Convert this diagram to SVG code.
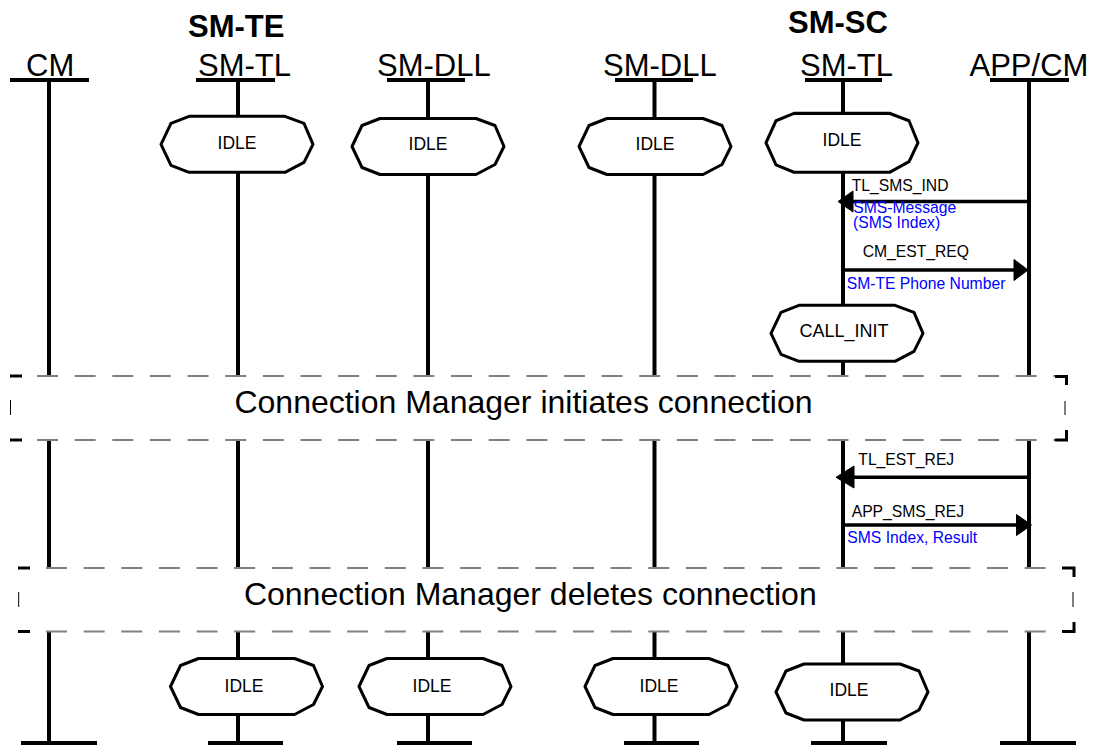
<svg xmlns="http://www.w3.org/2000/svg" xmlns:xlink="http://www.w3.org/1999/xlink" width="1098" height="745" viewBox="0 0 1098 745">
<style>
text{font-family:"Liberation Sans",Arial,sans-serif;fill:#000}
.hdr{font-size:31px}
.grp{font-size:31px;font-weight:bold}
.st{font-size:17.5px;text-anchor:middle}
.lbl{font-size:15.7px}
.blue{fill:#0000ff}
.big{font-size:32px;text-anchor:middle}
.life{stroke:#000;stroke-width:4;fill:none}
.bar{stroke:#000;stroke-width:4;fill:none}
.shape{fill:#fff;stroke:#000;stroke-width:3;stroke-linejoin:round}
.msg{stroke:#000;stroke-width:3.5;fill:none}
.head{fill:#000;stroke:#000;stroke-width:1}
.dash{stroke:#808080;stroke-width:2;stroke-dasharray:21 16.64;fill:none}
.corner{stroke:#000;stroke-width:3;fill:none}
.thin{stroke:#000;stroke-width:1;fill:none}
</style>
<defs>
<path id="state" d="M-48,-28 L48,-28 L67,-21 L76,0 L67,18 L48,28 L-48,28 L-66,21 L-76,0 L-66,-21 Z"/>
</defs>
<rect width="1098" height="745" fill="#fff"/>

<text class="grp" x="188" y="36.7">SM-TE</text>
<text class="grp" x="788" y="33.3">SM-SC</text>

<g id="ll-cm">
<text class="hdr" x="26" y="76">CM</text>
<line class="bar" x1="10" y1="80" x2="89" y2="80"/>
<path class="life" d="M49,80 V376 M49,440 V568 M49,631.5 V741"/>
<line class="bar" x1="21" y1="743" x2="97" y2="743"/>
</g>
<g id="ll-te-tl">
<text class="hdr" x="198" y="76">SM-TL</text>
<line class="bar" x1="196" y1="80" x2="275" y2="80"/>
<path class="life" d="M238,80 V376 M238,440 V568 M238,631.5 V741"/>
<line class="bar" x1="208" y1="743" x2="283" y2="743"/>
</g>
<g id="ll-te-dll">
<text class="hdr" x="377" y="76">SM-DLL</text>
<line class="bar" x1="387" y1="80" x2="465" y2="80"/>
<path class="life" d="M428,80 V376 M428,440 V568 M428,631.5 V741"/>
<line class="bar" x1="397" y1="743" x2="472" y2="743"/>
</g>
<g id="ll-sc-dll">
<text class="hdr" x="603" y="76">SM-DLL</text>
<line class="bar" x1="615" y1="80" x2="693" y2="80"/>
<path class="life" d="M654.5,80 V376 M654.5,440 V568 M654.5,631.5 V741"/>
<line class="bar" x1="624" y1="743" x2="699" y2="743"/>
</g>
<g id="ll-sc-tl">
<text class="hdr" x="800" y="76">SM-TL</text>
<line class="bar" x1="805" y1="80" x2="882" y2="80"/>
<path class="life" d="M843,80 V376 M843,440 V568 M843,631.5 V741"/>
<line class="bar" x1="811" y1="743" x2="887" y2="743"/>
</g>
<g id="ll-app">
<text class="hdr" x="969.5" y="76">APP/CM</text>
<line class="bar" x1="990" y1="80" x2="1069" y2="80"/>
<path class="life" d="M1029,80 V376 M1029,440 V568 M1029,631.5 V741"/>
<line class="bar" x1="1000" y1="743" x2="1076" y2="743"/>
</g>

<g id="state-te-tl-idle"><use xlink:href="#state" href="#state" class="shape" transform="translate(237,144.3)"/><text class="st" x="237" y="149.3">IDLE</text></g>
<g id="state-te-dll-idle"><use xlink:href="#state" href="#state" class="shape" transform="translate(428,146.5)"/><text class="st" x="428" y="150">IDLE</text></g>
<g id="state-sc-dll-idle"><use xlink:href="#state" href="#state" class="shape" transform="translate(655,146.5)"/><text class="st" x="655" y="150">IDLE</text></g>
<g id="state-sc-tl-idle"><use xlink:href="#state" href="#state" class="shape" transform="translate(842,142.8) scale(1,1.05)"/><text class="st" x="842" y="146">IDLE</text></g>
<g id="state-call-init"><use xlink:href="#state" href="#state" class="shape" transform="translate(847,333.3)"/><text class="st" x="844" y="336.7" style="font-size:18px">CALL_INIT</text></g>
<g id="state-te-tl-idle2"><use xlink:href="#state" href="#state" class="shape" transform="translate(246.5,686.5)"/><text class="st" x="244" y="691.7">IDLE</text></g>
<g id="state-te-dll-idle2"><use xlink:href="#state" href="#state" class="shape" transform="translate(435,686.5)"/><text class="st" x="432" y="691.7">IDLE</text></g>
<g id="state-sc-dll-idle2"><use xlink:href="#state" href="#state" class="shape" transform="translate(661,686.5)"/><text class="st" x="659" y="691.7">IDLE</text></g>
<g id="state-sc-tl-idle2"><use xlink:href="#state" href="#state" class="shape" transform="translate(852,692)"/><text class="st" x="849" y="696">IDLE</text></g>

<g id="box-initiates">
<line class="dash" x1="37" y1="376" x2="1055" y2="376"/>
<line class="dash" x1="37" y1="440" x2="1055" y2="440"/>
<line class="corner" x1="10" y1="376" x2="22" y2="376"/>
<line class="corner" x1="10" y1="440" x2="22" y2="440"/>
<line class="thin" x1="10.5" y1="400" x2="10.5" y2="415"/>
<path class="corner" d="M1055,376.5 H1066.5 V385 M1066.5,430 V440 H1055"/>
<line class="thin" x1="1065" y1="401" x2="1065" y2="415"/>
<text class="big" x="523.5" y="413.3">Connection Manager initiates connection</text>
</g>
<g id="box-deletes">
<line class="dash" x1="46" y1="568" x2="1062" y2="568"/>
<line class="dash" x1="46" y1="631.5" x2="1062" y2="631.5"/>
<line class="corner" x1="18" y1="568" x2="30" y2="568"/>
<line class="corner" x1="18" y1="631.5" x2="30" y2="631.5"/>
<line class="thin" x1="18.7" y1="592" x2="18.7" y2="607"/>
<path class="corner" d="M1062,568 H1074 V577 M1074,622 V631.5 H1062"/>
<line class="thin" x1="1073" y1="592" x2="1073" y2="607"/>
<text class="big" x="530.3" y="605">Connection Manager deletes connection</text>
</g>

<g id="connectors">
<line class="msg" x1="1029" y1="201.5" x2="850" y2="201.5"/>
<polygon class="head" points="838,201.5 853,191 853,212"/>
<text class="lbl" x="851.7" y="190.7">TL_SMS_IND</text>
<text class="lbl blue" x="853.3" y="213.3">SMS-Message</text>
<text class="lbl blue" x="853" y="228.3">(SMS Index)</text>

<line class="msg" x1="843" y1="270" x2="1016" y2="270"/>
<polygon class="head" points="1028,270 1014,259.5 1014,280.5"/>
<text class="lbl" x="862.7" y="257.3">CM_EST_REQ</text>
<text class="lbl blue" x="846.7" y="289.3">SM-TE Phone Number</text>

<line class="msg" x1="1029" y1="477.3" x2="851" y2="477.3"/>
<polygon class="head" points="836,477.3 854,466 854,488"/>
<text class="lbl" x="858.3" y="465">TL_EST_REJ</text>

<line class="msg" x1="843" y1="525" x2="1019" y2="525"/>
<polygon class="head" points="1031.5,525 1016.5,514.5 1016.5,535.5"/>
<text class="lbl" x="851.7" y="516.7">APP_SMS_REJ</text>
<text class="lbl blue" x="847.3" y="542.7">SMS Index, Result</text>
</g>
</svg>
